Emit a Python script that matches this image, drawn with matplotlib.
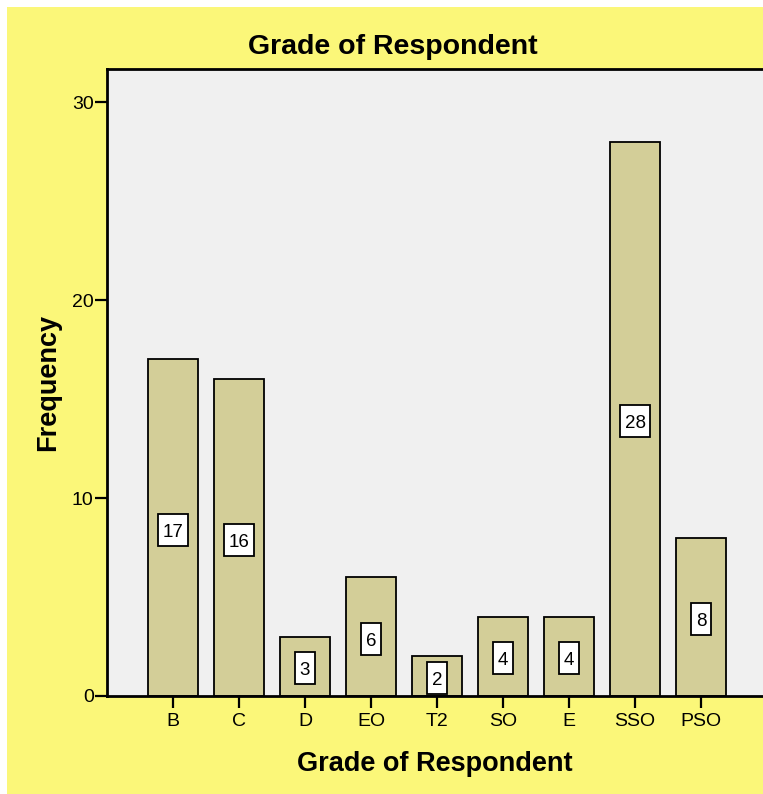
import matplotlib.pyplot as plt
from matplotlib.patches import Rectangle
from matplotlib.transforms import ScaledTranslation

categories = ["B", "C", "D", "EO", "T2", "SO", "E", "SSO", "PSO"]
counts = [17, 16, 3, 6, 2, 4, 4, 28, 8]
yticks = [0, 10, 20, 30]

YELLOW = "#FBF779"
PANEL = "#F0F0F0"
BAR = "#D3CE98"

plt.rcParams["font.family"] = ["Liberation Sans", "DejaVu Sans"]

W, H = 763, 794
fig = plt.figure(figsize=(W / 100, H / 100), dpi=100, facecolor="white")
fig.patches.append(Rectangle((7 / W, 0), 1, 1 - 7 / H,
                             transform=fig.transFigure, facecolor=YELLOW,
                             edgecolor="none", zorder=-10))

ax = fig.add_axes([107 / W, (H - 696) / H, 1 - 107 / W, (696 - 69) / H])
ax.set_facecolor(PANEL)

x = list(range(len(categories)))
ax.bar(x, counts, width=0.76, color=BAR, edgecolor="black", linewidth=1.3,
       zorder=2)

# value boxes: fixed pixel size, centred just under half the bar height
text_shift = ax.transData + ScaledTranslation(0, -0.09, fig.dpi_scale_trans)
for xi, c in zip(x, counts):
    label = str(c)
    bw, bh = 10.5 * len(label) + 9, 32
    at = ScaledTranslation(xi, c / 2, ax.transData)
    ax.add_patch(Rectangle((-bw / 2, -bh / 2 - 2), bw, bh, transform=at,
                           facecolor="white", edgecolor="black", lw=1.3,
                           zorder=3))
    ax.text(xi, c / 2, label, ha="center", va="baseline", fontsize=13.5,
            zorder=4, transform=text_shift)

ax.set_xlim(-1.0, (763 - 173) / 66)
ax.set_ylim(0, 31.67)
ax.set_xticks(x)
ax.set_xticklabels(categories, fontsize=14)
ax.set_yticks(yticks)
ax.set_yticklabels([str(t) for t in yticks], fontsize=14)
ax.tick_params(axis="both", direction="out", length=8.6, width=1.6)
ax.tick_params(axis="x", pad=4)
ax.tick_params(axis="y", pad=1)

for side in ["left", "top", "bottom"]:
    ax.spines[side].set_linewidth(2)
    ax.spines[side].set_color("black")
ax.spines["right"].set_visible(False)

ax.set_xlabel("Grade of Respondent", fontsize=19.5, fontweight="bold",
              labelpad=15)
ax.set_ylabel("Frequency", fontsize=19.5, fontweight="bold", labelpad=8)
fig.text(393 / W, 1 - 47 / H, "Grade of Respondent", ha="center",
         va="center", fontsize=20.5, fontweight="bold")

fig.savefig("out.png", dpi=100, facecolor=fig.get_facecolor())
